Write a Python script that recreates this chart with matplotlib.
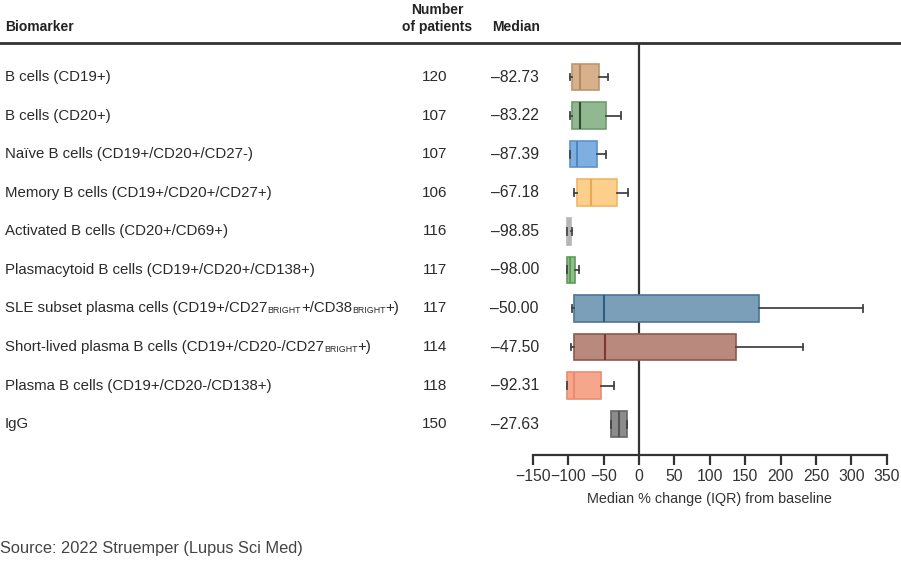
import matplotlib.pyplot as plt
import matplotlib.transforms as mtransforms
from matplotlib import font_manager

# ------------------------
# Datos
# ------------------------

biomarcadores = [
    [("B cells (CD19+)", False)],
    [("B cells (CD20+)", False)],
    [("Naïve B cells (CD19+/CD20+/CD27-)", False)],
    [("Memory B cells (CD19+/CD20+/CD27+)", False)],
    [("Activated B cells (CD20+/CD69+)", False)],
    [("Plasmacytoid B cells (CD19+/CD20+/CD138+)", False)],
    [("SLE subset plasma cells (CD19+/CD27", False), ("BRIGHT", True),
     ("+/CD38", False), ("BRIGHT", True), ("+)", False)],
    [("Short-lived plasma B cells (CD19+/CD20-/CD27", False), ("BRIGHT", True), ("+)", False)],
    [("Plasma B cells (CD19+/CD20-/CD138+)", False)],
    [("IgG", False)],
]
n_pacientes = [120, 107, 107, 106, 116, 117, 117, 114, 118, 150]
medianas = [-82.73, -83.22, -87.39, -67.18, -98.85, -98.00, -50.00, -47.50, -92.31, -27.63]
q1 = [-95, -95, -97, -88, -101, -101, -91, -91, -101, -40]
q3 = [-56, -47, -59, -31, -96, -90, 170, 137, -54, -17]
bigote_bajo = [-98, -98, -98, -91, -101, -101, -94, -96, -101, -40]
bigote_alto = [-43, -25, -46, -15, -94, -84, 316, 232, -35, -17]

relleno = ["#d6b18c", "#92b892", "#7db0e0", "#fdcf8c", "#cfcfcf",
           "#8fbf8a", "#7b9fb9", "#b8897c", "#f6a68b", "#8c8c8c"]
borde = ["#bf966d", "#6f9c6f", "#5c93c8", "#f0b662", "#b5b5b5",
         "#5f9a5a", "#4a7595", "#8e5a50", "#ea8d6f", "#666666"]
mediana_color = ["#b48a62", "#2f4a2f", "#4f86bd", "#eaa950", "#b5b5b5",
                 "#5f9a5a", "#2f5d80", "#7a3a32", "#ea8d6f", "#555555"]

ticks_x = [-150, -100, -50, 0, 50, 100, 150, 200, 250, 300, 350]

# ------------------------
# Fuentes
# ------------------------

disponibles = {f.name for f in font_manager.fontManager.ttflist}
fuente = "Liberation Sans"
fuente_cond = "Liberation Sans Narrow" if "Liberation Sans Narrow" in disponibles else "Liberation Sans"
plt.rcParams['font.family'] = [fuente, 'DejaVu Sans']

# ------------------------
# Figura
# ------------------------

W, H = 901, 570
fig = plt.figure(figsize=(W / 100, H / 100), dpi=100)
ax = fig.add_axes([532.7 / W, 1 - 455 / H, (886.7 - 532.7) / W, (455 - 44) / H])

filas = list(range(1, len(medianas) + 1))
stats = []
for i in range(len(medianas)):
    stats.append({"med": medianas[i], "q1": q1[i], "q3": q3[i],
                  "whislo": bigote_bajo[i], "whishi": bigote_alto[i], "fliers": []})

bp = ax.bxp(stats, positions=filas, orientation='horizontal', widths=0.69,
            patch_artist=True, showfliers=False, capwidths=0.18)
for i, caja in enumerate(bp['boxes']):
    caja.set_facecolor(relleno[i])
    caja.set_edgecolor(borde[i])
    caja.set_linewidth(1.2)
for i, med in enumerate(bp['medians']):
    med.set_color(mediana_color[i])
    med.set_linewidth(1.5)
for linea in bp['whiskers'] + bp['caps']:
    linea.set_color("#444444")
    linea.set_linewidth(1.3)

ax.axvline(0, color="#333333", lw=1.6, zorder=0)
ax.set_xlim(-150, 350)
ax.set_ylim(10.80, 0.144)
ax.set_yticks([])
for lado in ["left", "right", "top"]:
    ax.spines[lado].set_visible(False)
ax.spines["bottom"].set_color("#333333")
ax.spines["bottom"].set_linewidth(1.6)
ax.set_xticks(ticks_x)
ax.set_xticklabels(["\u2212" + str(-t) if t < 0 else str(t) for t in ticks_x])
ax.tick_params(axis='x', length=7, width=1.6, color="#333333", labelsize=11.3,
               labelcolor="#333333", pad=3)
ax.set_xlabel("Median % change (IQR) from baseline", fontsize=10.4, color="#333333", labelpad=6)

# ------------------------
# Tabla de texto
# ------------------------

trans = mtransforms.blended_transform_factory(fig.transFigure, ax.transData)
for i, fila in enumerate(filas):
    previo = None
    for texto, pequeno in biomarcadores[i]:
        tam = 6.4 if pequeno else 10.8
        if previo is None:
            previo = ax.text(5 / W, fila, texto, transform=trans, fontsize=tam,
                             color="#2a2a2a", ha='left', va='center')
        else:
            previo = ax.annotate(texto, xy=(1, 0), xycoords=previo, fontsize=tam,
                                 color="#2a2a2a", ha='left', va='bottom')
    ax.text(435 / W, fila, str(n_pacientes[i]), transform=trans, fontsize=11,
            color="#2a2a2a", ha='center', va='center')
    ax.text(539 / W, fila, "\u2013" + f"{-medianas[i]:.2f}", transform=trans, fontsize=11.3,
            color="#2a2a2a", ha='right', va='center')

fig.text(5 / W, 1 - 27 / H, "Biomarker", fontsize=10, fontweight='bold',
         family=fuente_cond, color="#222222", ha='left', va='center')
fig.text(437 / W, 1 - 10 / H, "Number", fontsize=10, fontweight='bold',
         family=fuente_cond, color="#222222", ha='center', va='center')
fig.text(437 / W, 1 - 27 / H, "of patients", fontsize=10, fontweight='bold',
         family=fuente_cond, color="#222222", ha='center', va='center')
fig.text(516 / W, 1 - 27 / H, "Median", fontsize=10, fontweight='bold',
         family=fuente_cond, color="#222222", ha='center', va='center')

fig.add_artist(plt.Line2D([0, 1], [1 - 43 / H, 1 - 43 / H], transform=fig.transFigure,
                          color="#333333", lw=2))

fig.text(0 / W, 1 - 549 / H, "Source: 2022 Struemper (Lupus Sci Med)", fontsize=11.8,
         color="#444444", ha='left', va='center')

fig.savefig("out.png", dpi=100)
